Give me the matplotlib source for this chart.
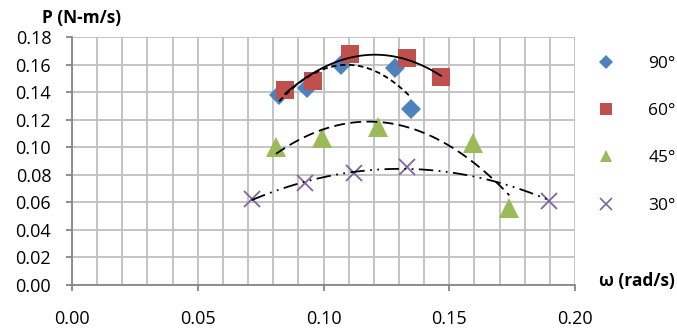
import numpy as np
import matplotlib.pyplot as plt
from matplotlib.lines import Line2D

plt.rcParams['font.family'] = ['Open Sans', 'DejaVu Sans']

w90 = [0.0824, 0.0933, 0.107, 0.1284, 0.1347]
p90 = [0.138, 0.143, 0.160, 0.158, 0.128]
w60 = [0.0847, 0.0960, 0.1105, 0.1331, 0.1467]
p60 = [0.142, 0.148, 0.168, 0.165, 0.151]
w45 = [0.0811, 0.0993, 0.1215, 0.1596, 0.1739]
p45 = [0.100, 0.1065, 0.115, 0.103, 0.056]
w30 = [0.0714, 0.0926, 0.1123, 0.1333, 0.1898]
p30 = [0.0624, 0.0738, 0.0811, 0.0859, 0.0612]

labels = ['90°', '60°', '45°', '30°']
colors = ['#4F81BD', '#C0504D', '#9BBB59', '#8064A2']
markers = ['D', 's', '^', 'x']
msizes = [10, 13, 14, 12]
trend_styles = [(0, (3, 2)), '-', (0, (6, 3)), (0, (8, 3, 1, 3, 1, 3))]

fig = plt.figure(figsize=(6.77, 3.33), dpi=100)
ax = fig.add_axes([0.1064, 0.1447, 0.7429, 0.7433])

series = [(w90, p90), (w60, p60), (w45, p45), (w30, p30)]
handles = []
for (w, p), lab, col, mk, ms, ls in zip(series, labels, colors, markers, msizes, trend_styles):
    if mk == 'x':
        ax.plot(w, p, linestyle='none', marker=mk, color=col, markersize=ms, markeredgewidth=1.3, zorder=3)
        handles.append(Line2D([], [], linestyle='none', marker=mk, color=col, markersize=8, markeredgewidth=1.2))
    else:
        ax.plot(w, p, linestyle='none', marker=mk, color=col, markersize=ms, markeredgewidth=0, zorder=3)
        handles.append(Line2D([], [], linestyle='none', marker=mk, color=col,
                              markersize=7 if mk == 'D' else 9, markeredgewidth=0))
    # second order trendline
    coef = np.polyfit(w, p, 2)
    xs = np.linspace(min(w), max(w), 100)
    ax.plot(xs, np.polyval(coef, xs), color='black', linestyle=ls, linewidth=1.3, zorder=4)

ax.set_xlim(0, 0.20)
ax.set_ylim(0, 0.18)
ax.set_xticks(np.arange(0, 0.201, 0.05))
ax.set_xticks(np.arange(0, 0.201, 0.01), minor=True)
ax.set_yticks(np.arange(0, 0.181, 0.02))
ax.xaxis.set_major_formatter(plt.FormatStrFormatter('%.2f'))
ax.yaxis.set_major_formatter(plt.FormatStrFormatter('%.2f'))
ax.grid(True, which='both', color='#bfbfbf', linewidth=1.3)
ax.set_axisbelow(True)
for s in ['top', 'right']:
    ax.spines[s].set_visible(False)
for s in ['left', 'bottom']:
    ax.spines[s].set_color('#868686')
    ax.spines[s].set_linewidth(1.3)
ax.tick_params(axis='x', which='major', length=4, width=1.3, color='#868686', pad=14, labelsize=13)
ax.tick_params(axis='x', which='minor', length=0)
ax.tick_params(axis='y', length=4, width=1.3, color='#868686', pad=11, labelsize=13)

fig.text(0.062, 0.945, 'P (N-m/s)', fontsize=12.5, fontweight='bold', ha='left', va='center')
fig.text(0.997, 0.155, 'ω (rad/s)', fontsize=12.5, fontweight='bold', ha='right', va='center')

fig.legend(handles, labels, loc='upper left', bbox_to_anchor=(0.863, 0.87), frameon=False,
           fontsize=12.5, labelspacing=1.8, handletextpad=1.9, handlelength=1.1, borderpad=0.2)

fig.savefig('out.png', dpi=100)
